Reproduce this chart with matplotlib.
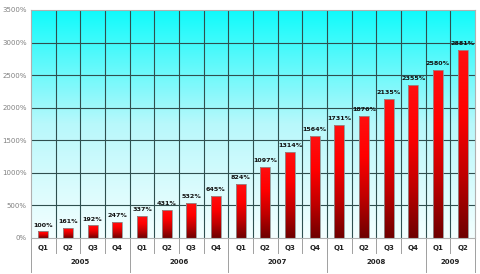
import numpy as np
import matplotlib
matplotlib.use("Agg")
import matplotlib.pyplot as plt
import matplotlib.transforms as mtrans
from matplotlib.colors import LinearSegmentedColormap

quarters = ["Q1", "Q2", "Q3", "Q4",
            "Q1", "Q2", "Q3", "Q4",
            "Q1", "Q2", "Q3", "Q4",
            "Q1", "Q2", "Q3", "Q4",
            "Q1", "Q2"]
years = ["2005", "2006", "2007", "2008", "2009"]
year_counts = [4, 4, 4, 4, 2]
growth = [100, 161, 192, 247, 337, 431, 532, 645, 824, 1097,
          1314, 1564, 1731, 1876, 2135, 2355, 2580, 2881]
yticks = [0, 500, 1000, 1500, 2000, 2500, 3000, 3500]

fig = plt.figure(figsize=(4.8, 2.74), dpi=100)
ax = fig.add_axes([31 / 480, 1 - 238 / 274, 444 / 480, 228 / 274])

n = len(growth)
x = np.arange(n) + 0.5
ax.set_xlim(0, n)
ax.set_ylim(0, 3500)

# background gradient: cyan at top to almost white at bottom
bg_cmap = LinearSegmentedColormap.from_list("bg", ["#f4ffff", "#b8f8fb", "#10fbfb"])
grad = np.linspace(0, 1, 256).reshape(-1, 1)
ax.imshow(grad, aspect="auto", cmap=bg_cmap, origin="lower",
          extent=[0, n, 0, 3500], zorder=0)

# grid
for yv in yticks[1:-1]:
    ax.axhline(yv, color="#2f4f4f", lw=0.8, zorder=1)
for xv in range(1, n):
    ax.axvline(xv, color="#2f4f4f", lw=0.8, zorder=1)

# bars with red gradient
bar_cmap = LinearSegmentedColormap.from_list("bar", ["#6e0000", "#c00000", "#ff0000", "#ff1010"])
bars = ax.bar(x, growth, width=0.4, color="none", edgecolor="#909090", lw=0.6, zorder=3)
for b in bars:
    bx, by = b.get_x(), b.get_y()
    bw, bh = b.get_width(), b.get_height()
    im = ax.imshow(grad, aspect="auto", cmap=bar_cmap, origin="lower",
                   extent=[bx, bx + bw, by, by + bh], zorder=2)
    im.set_clip_path(b)

for xi, v in zip(x, growth):
    ax.text(xi, v + 60, f"{v}%", ha="center", va="bottom",
            fontsize=4.6, fontweight="bold", color="#111111", zorder=4)

ax.set_xticks([])
ax.set_yticks(yticks)
ax.set_yticklabels([f"{v}%" for v in yticks], fontsize=5, color="#808080")
ax.tick_params(axis="y", length=0, pad=3)
for s in ax.spines.values():
    s.set_color("#b0b0b0")
    s.set_linewidth(0.8)

# category labels below the axis
tr = mtrans.blended_transform_factory(ax.transData, ax.transAxes)
px = 1 / 228  # one pixel in axes fraction (vertical)
for xi, q in zip(x, quarters):
    ax.text(xi, -10 * px, q, transform=tr, ha="center", va="center",
            fontsize=5, fontweight="bold", color="#222222")
for xv in range(1, n):
    ax.plot([xv, xv], [0, -15 * px], transform=tr, color="#a0a0a0",
            lw=0.7, clip_on=False)

start = 0
for yr, cnt in zip(years, year_counts):
    ax.text(start + cnt / 2, -24 * px, yr, transform=tr, ha="center",
            va="center", fontsize=5, fontweight="bold", color="#222222")
    start += cnt
    ax.plot([start, start], [0, -34 * px], transform=tr, color="#a0a0a0",
            lw=0.7, clip_on=False)
ax.plot([0, 0], [0, -34 * px], transform=tr, color="#a0a0a0",
        lw=0.7, clip_on=False)

fig.savefig("out.png", dpi=100)
